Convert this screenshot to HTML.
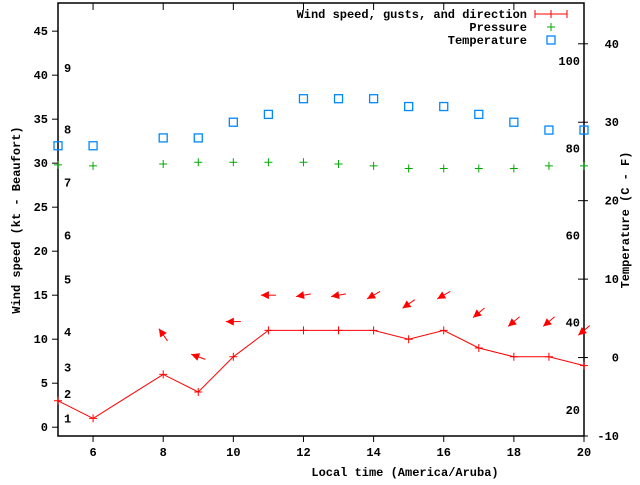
<!DOCTYPE html>
<html><head><meta charset="utf-8"><style>
body{margin:0;background:#fff}
svg text{font-family:"Liberation Mono",monospace;font-weight:bold;font-size:12px;fill:#000}
</style></head><body>
<svg id="c" width="640" height="480" xmlns="http://www.w3.org/2000/svg"></svg>
<script>
const hours=[5,6,8,9,10,11,12,13,14,15,16,17,18,19,20];
const windSpeed=[3,1,6,4,8,11,11,11,11,10,11,9,8,8,7];
const pressure=[29.8,29.7,29.9,30.1,30.1,30.1,30.1,29.9,29.7,29.4,29.4,29.4,29.4,29.7,29.7];
const temperature=[27,27,28,28,30,31,33,33,33,32,32,31,30,29,29];
const arrowHours=[8,9,10,11,12,13,14,15,16,17,18,19,20];
const arrowLevel=[10.5,8,12,15,15,15,15,14,15,13,12,12,11];
const arrowAngle=[125,160,180,180,190,190,210,215,210,220,220,220,220];
const xTicks=[6,8,10,12,14,16,18,20];
const yTicks=[0,5,10,15,20,25,30,35,40,45];
const tTicks=[-10,0,10,20,30,40];
const beaufortLabels=["1","2","3","4","5","6","7","8","9"];
const beaufortLevel=[1,3.8,6.8,10.8,16.8,21.8,27.8,33.8,40.8];
const fLabels=[20,40,60,80,100];

const L=58,R=584,T=3,B=436;
const X=v=>L+(v-5)*(R-L)/15;
const Y=v=>B-(v+1)*(B-T)/49.2;
const TY=v=>B-(v+10)*(B-T)/55.2;
const FY=f=>TY((f-32)*5/9);
const svg=document.getElementById('c');
const NS='http://www.w3.org/2000/svg';
function el(tag,attrs,name,txt){const e=document.createElementNS(NS,tag);for(const k in attrs)e.setAttribute(k,attrs[k]);


if(txt!==undefined)e.textContent=txt;svg.appendChild(e);return e;}

el('rect',{x:L,y:T,width:R-L,height:B-T,fill:'none',stroke:'#000','stroke-width':1.5},'plot-frame');
xTicks.forEach(v=>{el('line',{x1:X(v),x2:X(v),y1:B,y2:B+6,stroke:'#000'},'x-tick');
el('line',{x1:X(v),x2:X(v),y1:T,y2:T+7,stroke:'#000'},'x-tick-top');
el('text',{x:X(v),y:B+20,'text-anchor':'middle'},'x-tick-label',v);});
yTicks.forEach(v=>{el('line',{x1:L-6,x2:L,y1:Y(v),y2:Y(v),stroke:'#000'},'y-tick');
el('text',{x:L-10,y:Y(v)+4,'text-anchor':'end'},'y-tick-label',v);});
tTicks.forEach(v=>{el('line',{x1:R-6,x2:R+4,y1:TY(v),y2:TY(v),stroke:'#000'},'temp-tick');
el('text',{x:R+35,y:TY(v)+4,'text-anchor':'end'},'temp-tick-label',v);});
beaufortLabels.forEach((s,i)=>el('text',{x:64,y:Y(beaufortLevel[i])+4},'beaufort-label',s));
fLabels.forEach(f=>el('text',{x:R-4,y:FY(f)+4,'text-anchor':'end'},'fahrenheit-label',f));
el('text',{x:405,y:476,'text-anchor':'middle'},'x-axis-title','Local time (America/Aruba)');
el('text',{x:20,y:220,'text-anchor':'middle',transform:'rotate(-90 20 220)'},'y-axis-title','Wind speed (kt - Beaufort)');
el('text',{x:629,y:220,'text-anchor':'middle',transform:'rotate(-90 629 220)'},'y2-axis-title','Temperature (C - F)');

el('polyline',{points:hours.map((h,i)=>X(h)+','+Y(windSpeed[i])).join(' '),fill:'none',stroke:'#f00'},'wind-line');
hours.forEach((h,i)=>{el('path',{d:`M${X(h)-4},${Y(windSpeed[i])}h8M${X(h)},${Y(windSpeed[i])-4}v8`,stroke:'#f00'},'wind-point');});
hours.forEach((h,i)=>{el('path',{d:`M${X(h)-4},${Y(pressure[i])}h8M${X(h)},${Y(pressure[i])-4}v8`,stroke:'#0a0'},'pressure-point');});
hours.forEach((h,i)=>{el('rect',{x:X(h)-4,y:TY(temperature[i])-4,width:8,height:8,fill:'none',stroke:'#08f','stroke-width':1.3},'temperature-point');});
arrowHours.forEach((h,i)=>{const cx=X(h),cy=Y(arrowLevel[i]),a=arrowAngle[i]*Math.PI/180;
const ux=Math.cos(a),uy=-Math.sin(a);const px=-uy,py=ux;
const hx=cx+ux*7.5,hy=cy+uy*7.5,tx=cx-ux*7.5,ty=cy-uy*7.5;
el('line',{x1:tx,y1:ty,x2:hx,y2:hy,stroke:'#f00'},'wind-direction-arrow');
el('polygon',{points:`${hx},${hy} ${hx-ux*8+px*4},${hy-uy*8+py*4} ${hx-ux*8-px*4},${hy-uy*8-py*4}`,fill:'#f00'},'wind-arrow-head');});
el('text',{x:527,y:18,'text-anchor':'end'},'legend-wind-label','Wind speed, gusts, and direction');
el('path',{d:'M535,14h32M535,10v8M567,10v8M551,10v8',stroke:'#f00'},'legend-wind-symbol');
el('text',{x:527,y:31,'text-anchor':'end'},'legend-pressure-label','Pressure');
el('path',{d:'M547,27h8M551,23v8',stroke:'#0a0'},'legend-pressure-symbol');
el('text',{x:527,y:44,'text-anchor':'end'},'legend-temperature-label','Temperature');
el('rect',{x:547,y:36,width:8,height:8,fill:'none',stroke:'#08f','stroke-width':1.3},'legend-temperature-symbol');
</script>
</body></html>
